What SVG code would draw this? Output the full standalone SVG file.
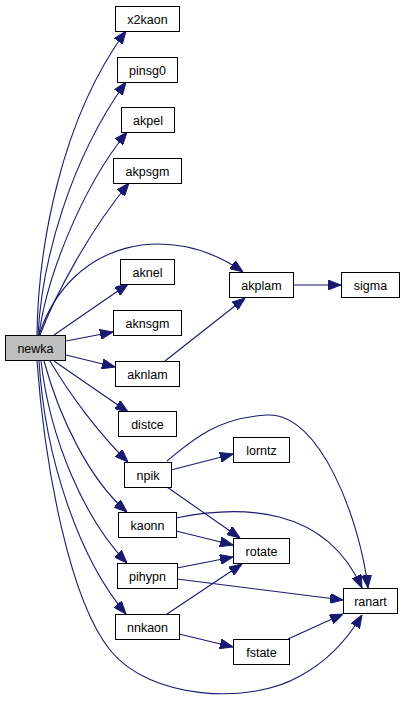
<svg xmlns="http://www.w3.org/2000/svg" width="404" height="704" viewBox="0 0 404 704">
<style>
.n rect{fill:#fff;stroke:#000;stroke-width:1}
.n text{font-family:"Liberation Sans",Arial,sans-serif;font-size:12.5px;text-anchor:middle;fill:#000}
#e path{fill:none;stroke:#191970;stroke-width:1.1;marker-end:url(#ah)}
</style>
<defs>
<marker id="ah" viewBox="0 0 13 10" markerWidth="13" markerHeight="10" refX="13" refY="5" orient="auto" markerUnits="userSpaceOnUse">
<path d="M0,0 L13,5 L0,10 z" fill="#191970" stroke="#191970" stroke-width="1"/>
</marker>
</defs>
<rect width="404" height="704" fill="#fff"/>
<g id="e">
<path d="M37,335 C38,250 60,120 126,31"/>
<path d="M38,335 C42,260 70,160 126,82"/>
<path d="M39,335 C46,280 80,190 127,132"/>
<path d="M40,335 C55,295 90,230 129,183"/>
<path d="M39,335 C70,240 170,220 243,272"/>
<path d="M54,335 L128,284"/>
<path d="M66,341 L113,332"/>
<path d="M66,355 L115,367"/>
<path d="M54,361 L128,412"/>
<path d="M50,361 C70,395 100,435 128,462"/>
<path d="M44,361 C60,420 90,480 127,512"/>
<path d="M41,361 C50,440 85,520 127,563"/>
<path d="M39,361 C45,460 80,560 126,614"/>
<path d="M37,361 C45,470 70,600 110,650 C150,700 250,705 300,676 C330,660 350,635 362,615"/>
<path d="M165,361 L245,298"/>
<path d="M293,285 L341,285"/>
<path d="M171,470 L233,454"/>
<path d="M167,461 C190,442 215,418 267,415 C320,412 360,520 368,588"/>
<path d="M167,487 L240,538"/>
<path d="M176,518 C240,505 325,505 362,588"/>
<path d="M176,531 L233,545"/>
<path d="M177,568 L233,557"/>
<path d="M177,579 L343,600"/>
<path d="M167,614 L242,564"/>
<path d="M179,634 L233,647"/>
<path d="M288,639 L343,614"/>
</g>
<g id="newka" class="n"><rect x="5.5" y="335.5" width="60" height="25" style="fill:#bfbfbf"/><text x="35.5" y="352.5">newka</text></g>
<g id="x2kaon" class="n"><rect x="115.5" y="6.5" width="64" height="25"/><text x="147.5" y="23.5">x2kaon</text></g>
<g id="pinsg0" class="n"><rect x="117.5" y="57.5" width="60" height="25"/><text x="147.5" y="74.5">pinsg0</text></g>
<g id="akpel" class="n"><rect x="121.5" y="107.5" width="53" height="25"/><text x="148" y="124.5">akpel</text></g>
<g id="akpsgm" class="n"><rect x="113.5" y="158.5" width="68" height="25"/><text x="147.5" y="175.5">akpsgm</text></g>
<g id="aknel" class="n"><rect x="120.5" y="259.5" width="54" height="25"/><text x="147.5" y="276.5">aknel</text></g>
<g id="aknsgm" class="n"><rect x="113.5" y="310.5" width="68" height="25"/><text x="147.5" y="327.5">aknsgm</text></g>
<g id="aknlam" class="n"><rect x="115.5" y="361.5" width="64" height="25"/><text x="147.5" y="378.5">aknlam</text></g>
<g id="distce" class="n"><rect x="118.5" y="411.5" width="58" height="25"/><text x="147.5" y="428.5">distce</text></g>
<g id="npik" class="n"><rect x="124.5" y="462.5" width="47" height="25"/><text x="148" y="479.5">npik</text></g>
<g id="kaonn" class="n"><rect x="118.5" y="512.5" width="58" height="25"/><text x="147.5" y="529.5">kaonn</text></g>
<g id="pihypn" class="n"><rect x="117.5" y="563.5" width="60" height="25"/><text x="147.5" y="580.5">pihypn</text></g>
<g id="nnkaon" class="n"><rect x="115.5" y="614.5" width="64" height="25"/><text x="147.5" y="631.5">nnkaon</text></g>
<g id="akplam" class="n"><rect x="229.5" y="272.5" width="64" height="25"/><text x="261.5" y="289.5">akplam</text></g>
<g id="sigma" class="n"><rect x="341.5" y="272.5" width="58" height="25"/><text x="370.5" y="289.5">sigma</text></g>
<g id="lorntz" class="n"><rect x="233.5" y="437.5" width="56" height="25"/><text x="261.5" y="454.5">lorntz</text></g>
<g id="rotate" class="n"><rect x="233.5" y="538.5" width="56" height="25"/><text x="261.5" y="555.5">rotate</text></g>
<g id="fstate" class="n"><rect x="233.5" y="639.5" width="56" height="25"/><text x="261.5" y="656.5">fstate</text></g>
<g id="ranart" class="n"><rect x="343.5" y="588.5" width="54" height="25"/><text x="370.5" y="605.5">ranart</text></g>
</svg>
